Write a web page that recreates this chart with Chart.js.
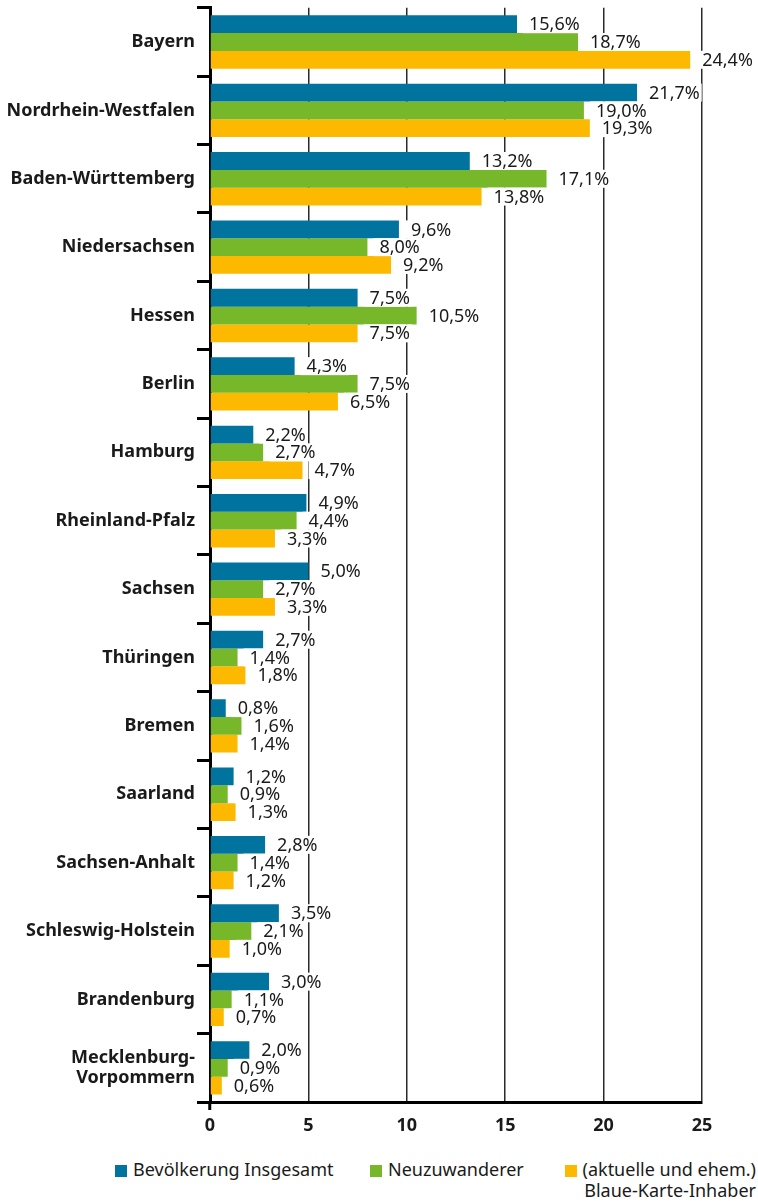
<!DOCTYPE html>
<html>
<head>
<meta charset="utf-8">
<script src="https://cdn.jsdelivr.net/npm/chart.js@4.4.7/dist/chart.umd.min.js"></script>
<style>
  html, body { margin: 0; padding: 0; background: #fff; }
  body { width: 758px; height: 1203px; position: relative; font-family: "Noto Sans", sans-serif; color: #1a1a1a; overflow: hidden; }
  #wrap { position: absolute; left: 0; top: -14px; width: 758px; height: 1159px; }
  .legend { position: absolute; top: 1159px; font-size: 18px; line-height: 21px; }
  .legend .box { display: inline-block; width: 12px; height: 12px; margin-right: 6px; vertical-align: -1px; }
  #leg2 { text-align: right; }
</style>
</head>
<body>
<div id="wrap"><canvas id="chart"></canvas></div>
<div class="legend" id="leg0" style="left:115px"></div>
<div class="legend" id="leg1" style="left:370px"></div>
<div class="legend" id="leg2" style="right:2px"></div>
<script>
const states = [
  'Bayern', 'Nordrhein-Westfalen', 'Baden-Württemberg', 'Niedersachsen', 'Hessen',
  'Berlin', 'Hamburg', 'Rheinland-Pfalz', 'Sachsen', 'Thüringen', 'Bremen',
  'Saarland', 'Sachsen-Anhalt', 'Schleswig-Holstein', 'Brandenburg',
  ['Mecklenburg-', 'Vorpommern']
];
const seriesNames = ['Bevölkerung Insgesamt', 'Neuzuwanderer', '(aktuelle und ehem.)\nBlaue-Karte-Inhaber'];
const seriesColors = ['#00739f', '#77b82a', '#fcb900'];
const population = [15.6, 21.7, 13.2, 9.6, 7.5, 4.3, 2.2, 4.9, 5.0, 2.7, 0.8, 1.2, 2.8, 3.5, 3.0, 2.0];
const newcomers  = [18.7, 19.0, 17.1, 8.0, 10.5, 7.5, 2.7, 4.4, 2.7, 1.4, 1.6, 0.9, 1.4, 2.1, 1.1, 0.9];
const blueCard   = [24.4, 19.3, 13.8, 9.2, 7.5, 6.5, 4.7, 3.3, 3.3, 1.8, 1.4, 1.3, 1.2, 1.0, 0.7, 0.6];
const xTicks = [0, 5, 10, 15, 20, 25];

const FONT = '"Noto Sans", sans-serif';

// legend (html, so the last entry can wrap onto two lines)
seriesNames.forEach((name, i) => {
  const el = document.getElementById('leg' + i);
  const lines = name.split('\n');
  el.innerHTML = '<span class="box" style="background:' + seriesColors[i] + '"></span>' +
    lines[0] + (lines[1] ? '<br>' + lines[1] : '');
});

const valueLabels = {
  id: 'valueLabels',
  afterDatasetsDraw(chart) {
    const ctx = chart.ctx;
    ctx.save();
    ctx.font = '18px ' + FONT;
    ctx.textBaseline = 'middle';
    chart.data.datasets.forEach((ds, di) => {
      chart.getDatasetMeta(di).data.forEach((bar, i) => {
        const txt = ds.data[i].toFixed(1).replace('.', ',') + '%';
        const w = ctx.measureText(txt).width;
        const x = bar.x + 12;
        ctx.fillStyle = '#fff';
        ctx.fillRect(bar.x + 6, bar.y - 9, w + 8, 18);
        ctx.fillStyle = '#1a1a1a';
        ctx.fillText(txt, x, bar.y + 1);
      });
    });
    ctx.restore();
  }
};

new Chart(document.getElementById('chart'), {
  type: 'bar',
  data: {
    labels: states,
    datasets: [population, newcomers, blueCard].map((d, i) => ({
      label: seriesNames[i],
      data: d,
      backgroundColor: seriesColors[i],
      categoryPercentage: 0.78,
      barPercentage: 1.0,
    })),
  },
  plugins: [valueLabels],
  options: {
    indexAxis: 'y',
    responsive: true,
    maintainAspectRatio: false,
    animation: false,
    layout: { padding: { top: 0, right: 56, left: 0, bottom: 0 } },
    plugins: {
      legend: { display: false },
      tooltip: { enabled: false },
    },
    scales: {
      x: {
        min: 0,
        max: 25,
        afterBuildTicks: (scale) => { scale.ticks = xTicks.map(v => ({ value: v })); },
        afterFit: (scale) => { scale.height = 43; },
        border: { color: '#000', width: 3 },
        grid: {
          color: (c) => (c.tick && c.tick.value === 0 ? 'rgba(0,0,0,0)' : '#2a2a2a'),
          lineWidth: 1.5,
          tickColor: (c) => (c.tick && c.tick.value === 0 ? '#000' : 'rgba(0,0,0,0)'),
          tickWidth: 3,
          tickLength: 8,
        },
        ticks: {
          color: '#1a1a1a',
          font: { family: FONT, size: 18, weight: 'bold' },
          padding: 5,
        },
      },
      y: {
        afterFit: (scale) => { scale.width = 210; },
        border: { color: '#000', width: 3 },
        grid: {
          offset: true,
          drawOnChartArea: false,
          color: '#000',
          lineWidth: 3,
          tickLength: 13,
        },
        ticks: {
          color: '#1a1a1a',
          font: { family: FONT, size: 18, weight: 'bold', lineHeight: 1.1 },
          padding: 2,
        },
      },
    },
  },
});
</script>
</body>
</html>
